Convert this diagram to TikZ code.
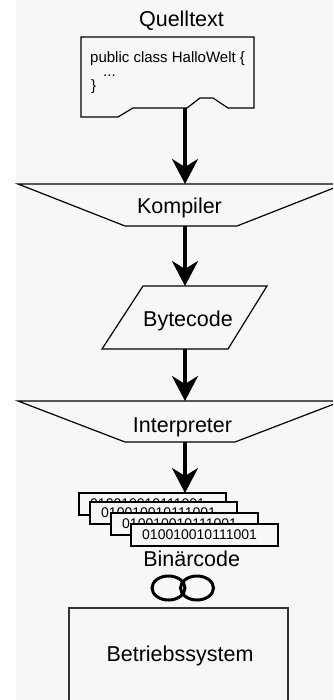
\documentclass[tikz,border=0pt]{standalone}
\usepackage{fontspec}
\setmainfont{Liberation Sans}
\usetikzlibrary{arrows.meta}
\definecolor{paper}{HTML}{F7F7F7}
\definecolor{frame}{HTML}{333333}
\begin{document}
\begin{tikzpicture}[x=1pt,y=-1pt,
  outline/.style={draw=black, line width=1.2pt, line join=miter},
  flow/.style={line width=3.6pt, -{Stealth[length=25pt,width=26pt,inset=8pt]}},
  lbl/.style={font=\fontsize{21.5}{24}\selectfont, anchor=base, inner sep=0pt},
  codetext/.style={font=\fontsize{15}{18}\selectfont, anchor=base west, inner sep=0pt},
  card/.style={outline, fill=paper},
  bits/.style={font=\fontsize{14}{16}\selectfont, anchor=base west, inner sep=0pt},
]
\useasboundingbox (0,0) rectangle (333,700);
\clip (0,0) rectangle (333,700);
\fill[white] (0,0) rectangle (333,700);
\fill[paper] (16,0) rectangle (333,700);

% source document
\node[lbl] (srctitle) at (181.5,26.5) {Quelltext};
\draw[outline] (81,37) -- (254,37) -- (254,108) -- (228,108) -- (213,98) -- (200,98)
  -- (187,108) -- (133,108) -- (118,117) -- (81,117) -- cycle;
\node[codetext] (code1) at (90,63) {public class HalloWelt \{};
\node[codetext] (code2) at (103,77) {...};
\node[codetext] (code3) at (91,91) {\}};
\coordinate (src-out) at (185,108);

% compiler
\draw[outline] (18,184) -- (344,184) -- (237,226) -- (125,226) -- cycle;
\node[lbl] (comp) at (179.5,213.3) {Kompiler};
\coordinate (comp-in) at (185,184);
\coordinate (comp-out) at (185,226);

% bytecode
\draw[outline] (143,286) -- (267,286) -- (228,349) -- (102,349) -- cycle;
\node[lbl] (byte) at (188,326.7) {Bytecode};
\coordinate (byte-in) at (185,286);
\coordinate (byte-out) at (185,349);

% interpreter
\draw[outline] (18,401) -- (342,401) -- (235,442) -- (125,442) -- cycle;
\node[lbl] (interp) at (182.5,432.3) {Interpreter};
\coordinate (interp-in) at (185,401);
\coordinate (interp-out) at (185,442);

% binary code cards
\foreach \l/\t in {79/493, 90/502, 111/513, 131/524} {
  \draw[card] (\l,\t) rectangle ++(147,22);
  \node[bits] at (\l+11,\t+15) {010010010111001};
}
\coordinate (bin-in) at (185,493);
\node[lbl] (bin) at (191.7,566.7) {Binärcode};

% link symbol
\draw[line width=3pt] (168.5,588) ellipse [x radius=16.5, y radius=12];
\draw[line width=3pt] (197,588) ellipse [x radius=16.5, y radius=12];

% operating system
\draw[draw=frame, line width=2pt] (69,608) rectangle (288,712);
\node[lbl] (os) at (180,661.7) {Betriebssystem};

% flow arrows
\draw[flow] (src-out) -- (comp-in);
\draw[flow] (comp-out) -- (byte-in);
\draw[flow] (byte-out) -- (interp-in);
\draw[flow] (interp-out) -- (bin-in);
\end{tikzpicture}
\end{document}
